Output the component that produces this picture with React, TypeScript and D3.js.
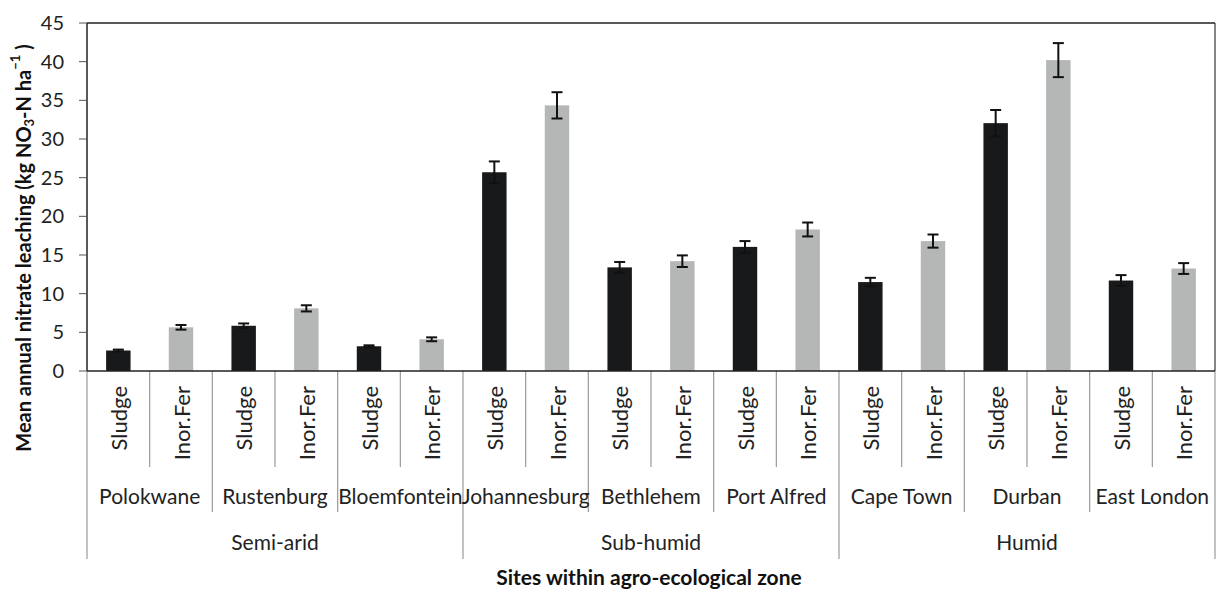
import React from "react";
import * as d3 from "d3";

const treatments = ["Sludge", "Inor.Fer"];
const sites = ["Polokwane", "Rustenburg", "Bloemfontein", "Johannesburg", "Bethlehem", "Port Alfred", "Cape Town", "Durban", "East London"];
const zones = ["Semi-arid", "Sub-humid", "Humid"];
const sitesPerZone = [3, 3, 3];
const sludgeValues = [2.65, 5.85, 3.2, 25.7, 13.4, 16.05, 11.5, 32.05, 11.7];
const sludgeErrors = [0.12, 0.3, 0.12, 1.4, 0.7, 0.75, 0.55, 1.7, 0.7];
const inorValues = [5.65, 8.1, 4.1, 34.35, 14.2, 18.3, 16.8, 40.2, 13.25];
const inorErrors = [0.3, 0.4, 0.25, 1.7, 0.75, 0.9, 0.85, 2.2, 0.7];
const yTicks = [0, 5, 10, 15, 20, 25, 30, 35, 40, 45];

const FONT = "Lato, 'Open Sans', sans-serif";

export default function App() {
  const W = 1217, H = 589;
  const left = 87, right = 1215, top = 23, bottom = 371;
  const n = sites.length * 2;
  const idx = d3.range(n);
  const x = d3.scaleBand<number>().domain(idx).range([left, right]).paddingInner(0.61).paddingOuter(0.305);
  const y = d3.scaleLinear().domain([0, 45]).range([bottom, top]);
  const step = x.step();

  const bars = idx.map((i) => {
    const s = Math.floor(i / 2);
    const t = i % 2;
    return {
      i,
      v: t === 0 ? sludgeValues[s] : inorValues[s],
      e: t === 0 ? sludgeErrors[s] : inorErrors[s],
      color: t === 0 ? "#17191b" : "#b5b7b6",
      label: treatments[t],
    };
  });

  const zoneEnds = [0];
  let acc = 0;
  sitesPerZone.forEach((c) => { acc += c * 2; zoneEnds.push(acc); });

  const boundaries = d3.range(n + 1).map((k) => {
    const xp = left + k * step;
    let y2 = 467;
    if (k % 2 === 0) y2 = 512;
    if (zoneEnds.includes(k)) y2 = 559;
    return { xp, y2 };
  });

  let zoneStart = 0;
  const zoneSpans = zones.map((z, zi) => {
    const s0 = zoneStart;
    zoneStart += sitesPerZone[zi] * 2;
    return { z, x0: left + s0 * step, x1: left + zoneStart * step };
  });

  return (
    <svg width={W} height={H} style={{ position: "absolute", left: 0, top: 0, background: "#fff" }} fontFamily={FONT}>
      <rect x={0} y={0} width={W} height={H} fill="#fff" />
      <line x1={left} x2={right} y1={top} y2={top} stroke="#222" strokeWidth={1.5} />
      <line x1={right} x2={right} y1={top} y2={bottom} stroke="#333" strokeWidth={1.2} />
      {bars.map((b) => (
        <rect key={"b" + b.i} x={x(b.i)} y={y(b.v)} width={x.bandwidth()} height={y(0) - y(b.v)} fill={b.color} />
      ))}
      {bars.map((b) => {
        const cx = (x(b.i) as number) + x.bandwidth() / 2;
        return (
          <g key={"e" + b.i} stroke="#111" strokeWidth={2}>
            <line x1={cx} x2={cx} y1={y(b.v + b.e)} y2={y(b.v - b.e)} />
            <line x1={cx - 5.5} x2={cx + 5.5} y1={y(b.v + b.e)} y2={y(b.v + b.e)} />
            <line x1={cx - 5.5} x2={cx + 5.5} y1={y(b.v - b.e)} y2={y(b.v - b.e)} />
          </g>
        );
      })}
      <line x1={left} x2={left} y1={top} y2={bottom} stroke="#222" strokeWidth={1.5} />
      {yTicks.map((t) => (
        <g key={"yt" + t}>
          <line x1={79} x2={left} y1={y(t)} y2={y(t)} stroke="#555" strokeWidth={1} />
          <text x={64} y={y(t)} dy="0.35em" textAnchor="end" fontSize={20} fill="#222">{t}</text>
        </g>
      ))}
      {boundaries.map((b, k) => (
        <line key={"cb" + k} x1={b.xp} x2={b.xp} y1={bottom} y2={b.y2} stroke="#9a9a9a" strokeWidth={1.2} />
      ))}
      <line x1={left} x2={right} y1={bottom} y2={bottom} stroke="#222" strokeWidth={1.5} />
      {bars.map((b) => {
        const cx = (x(b.i) as number) + x.bandwidth() / 2;
        return (
          <text key={"tl" + b.i} transform={`translate(${cx},386) rotate(-90)`} textAnchor="end" dominantBaseline="central" fontSize={22} fill="#222">{b.label}</text>
        );
      })}
      {sites.map((s, si) => (
        <text key={"s" + si} x={left + (si * 2 + 1) * step} y={497} dy="0.35em" textAnchor="middle" fontSize={21} fill="#222">{s}</text>
      ))}
      {zoneSpans.map((z) => (
        <text key={"z" + z.z} x={(z.x0 + z.x1) / 2} y={543} dy="0.35em" textAnchor="middle" fontSize={21} fill="#222">{z.z}</text>
      ))}
      <text x={(left + right) / 2 - 2} y={578} dy="0.35em" textAnchor="middle" fontSize={21} fontWeight="bold" fill="#111">Sites within agro-ecological zone</text>
      <text transform="translate(23,248) rotate(-90)" textAnchor="middle" dominantBaseline="central" fontSize={20} fontWeight="bold" fill="#111">
        Mean annual nitrate leaching (kg NO<tspan fontSize={13} dy={6}>3</tspan><tspan dy={-6}>-N ha</tspan><tspan fontSize={13} dy={-8}>−1</tspan><tspan dy={8}> )</tspan>
      </text>
    </svg>
  );
}
